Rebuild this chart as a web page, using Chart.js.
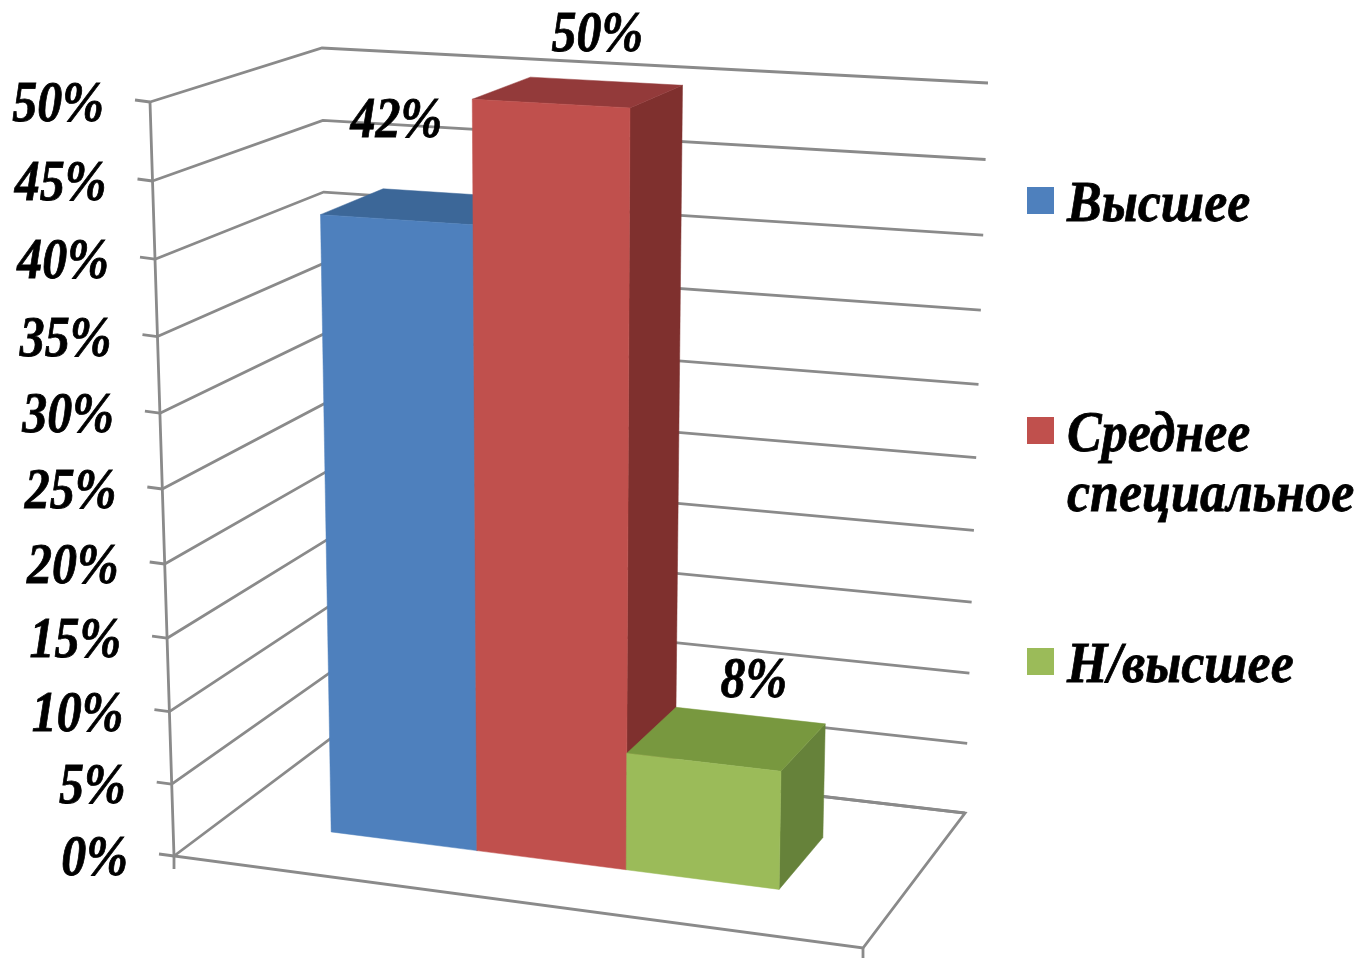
<!DOCTYPE html>
<html>
<head>
<meta charset="utf-8">
<style>
  html, body { margin: 0; background: #fff; }
  canvas { display: block; }
</style>
<script src="https://cdn.jsdelivr.net/npm/chart.js@4"></script>
</head>
<body>
<canvas id="educationChart" width="1360" height="958"></canvas>
<script>
const categories = [''];
const seriesNames = ['Высшее', 'Среднее специальное', 'Н/высшее'];
const seriesValues = [42, 50, 8];
const frontColors = ['#4e80bd', '#c0504d', '#9bbb59'];
const topColors = ['#3c6798', '#933a3a', '#78983f'];
const sideColors = ['#37608e', '#7f302e', '#66823a'];

// corners of the 3d box as seen on the picture: [bottom, top]
const box = {
  frontLeft: [[174, 856], [150, 102]],
  frontRight: [[863, 948], [880, 143]],
  backLeft: [[330, 739], [322, 48]],
  backRight: [[965, 813], [988, 83]]
};
const barDepth = [0.323, 0.716];
const labelShift = [[-30, -70], [19, -41], [27, -42]];
const legendRows = [221, 451, 682];

const gridColor = '#8a8a8a';
const serif = '"Liberation Serif"';

function mix(a, b, t) {
  return [a[0] + (b[0] - a[0]) * t, a[1] + (b[1] - a[1]) * t];
}

// u along the width, v up the height, z into the depth, all 0..1
function project(u, v, z) {
  const x = u - 0.054 * u * (1 - u);
  const y = 0.947 * v + 0.053 * v * v;
  const corner = (c) => mix(c[0], c[1], y);
  const front = mix(corner(box.frontLeft), corner(box.frontRight), x);
  const back = mix(corner(box.backLeft), corner(box.backRight), x);
  return mix(front, back, z);
}

function polygon(ctx, pts, color) {
  ctx.beginPath();
  pts.forEach((p, i) => (i ? ctx.lineTo(p[0], p[1]) : ctx.moveTo(p[0], p[1])));
  ctx.closePath();
  ctx.fillStyle = color;
  ctx.fill();
  ctx.strokeStyle = color;
  ctx.lineWidth = 0.5;
  ctx.stroke();
}

function line(ctx, pts) {
  ctx.beginPath();
  pts.forEach((p, i) => (i ? ctx.lineTo(p[0], p[1]) : ctx.moveTo(p[0], p[1])));
  ctx.strokeStyle = gridColor;
  ctx.lineWidth = 2.8;
  ctx.stroke();
}

// the reference text is stretched and heavier than the plain font
function label(ctx, text, x, y, align, stretch) {
  ctx.save();
  ctx.translate(x, y);
  ctx.scale(stretch, 1.13);
  ctx.font = 'italic bold 50px ' + serif;
  ctx.textAlign = align;
  ctx.textBaseline = 'alphabetic';
  ctx.fillStyle = '#000';
  ctx.strokeStyle = '#000';
  ctx.lineWidth = 0.7;
  ctx.fillText(text, 0, 0);
  ctx.strokeText(text, 0, 0);
  ctx.restore();
}

const box3d = {
  id: 'box3d',
  beforeDatasetsDraw(chart) {
    const { ctx, chartArea, scales } = chart;
    const toU = (px) => (px - chartArea.left) / chartArea.width;
    const toV = (py) => (chartArea.bottom - py) / chartArea.height;

    // walls and axis
    scales.y.ticks.forEach((tick) => {
      const v = toV(scales.y.getPixelForValue(tick.value));
      const start = project(0, v, 0);
      line(ctx, [start, project(0, v, 1), project(1, v, 1)]);
      line(ctx, [start, [start[0] - 15, start[1] - 2]]);
      label(ctx, tick.label, start[0] - 46, start[1] + 19, 'right', 1);
    });
    line(ctx, [project(0, 1, 0), project(0, 0, 0), project(1, 0, 0), project(1, 0, 1), project(0, 0, 1)]);
    const left = project(0, 0, 0);
    const right = project(1, 0, 0);
    line(ctx, [left, [left[0], left[1] + 13]]);
    line(ctx, [right, [right[0], right[1] + 13]]);

    // bars, left to right so each one covers the side of the previous
    chart.data.datasets.forEach((ds, i) => {
      const bar = chart.getDatasetMeta(i).data[0];
      const u0 = toU(bar.x - bar.width / 2);
      const u1 = toU(bar.x + bar.width / 2);
      const v0 = toV(bar.base);
      const v1 = toV(bar.y);
      const [z0, z1] = barDepth;
      polygon(ctx, [project(u1, v0, z0), project(u1, v0, z1), project(u1, v1, z1), project(u1, v1, z0)], sideColors[i]);
      polygon(ctx, [project(u0, v1, z0), project(u1, v1, z0), project(u1, v1, z1), project(u0, v1, z1)], topColors[i]);
      polygon(ctx, [project(u0, v0, z0), project(u1, v0, z0), project(u1, v1, z0), project(u0, v1, z0)], ds.backgroundColor);
    });

    chart.data.datasets.forEach((ds, i) => {
      const bar = chart.getDatasetMeta(i).data[0];
      const p = project(toU(bar.x), toV(bar.y), (barDepth[0] + barDepth[1]) / 2);
      label(ctx, ds.data[0] + '%', p[0] + labelShift[i][0], p[1] + labelShift[i][1], 'center', 1);
    });

    // legend
    chart.data.datasets.forEach((ds, i) => {
      ctx.fillStyle = ds.backgroundColor;
      ctx.fillRect(1027, legendRows[i] - 34, 27, 27);
      ds.label.split(' ').forEach((word, n) => {
        label(ctx, word, 1067, legendRows[i] + n * 60, 'left', 1.04);
      });
    });
    return false;
  }
};

new Chart(document.getElementById('educationChart'), {
  type: 'bar',
  data: {
    labels: categories,
    datasets: seriesNames.map((name, i) => ({
      label: name,
      data: [seriesValues[i]],
      backgroundColor: frontColors[i],
      barPercentage: 1,
      categoryPercentage: 0.667
    }))
  },
  options: {
    responsive: false,
    animation: false,
    plugins: { legend: { display: false }, tooltip: { enabled: false } },
    scales: {
      x: { display: false },
      y: {
        display: false,
        min: 0,
        max: 50,
        ticks: { stepSize: 5, callback: (v) => v + '%' }
      }
    }
  },
  plugins: [box3d]
});
</script>
</body>
</html>
